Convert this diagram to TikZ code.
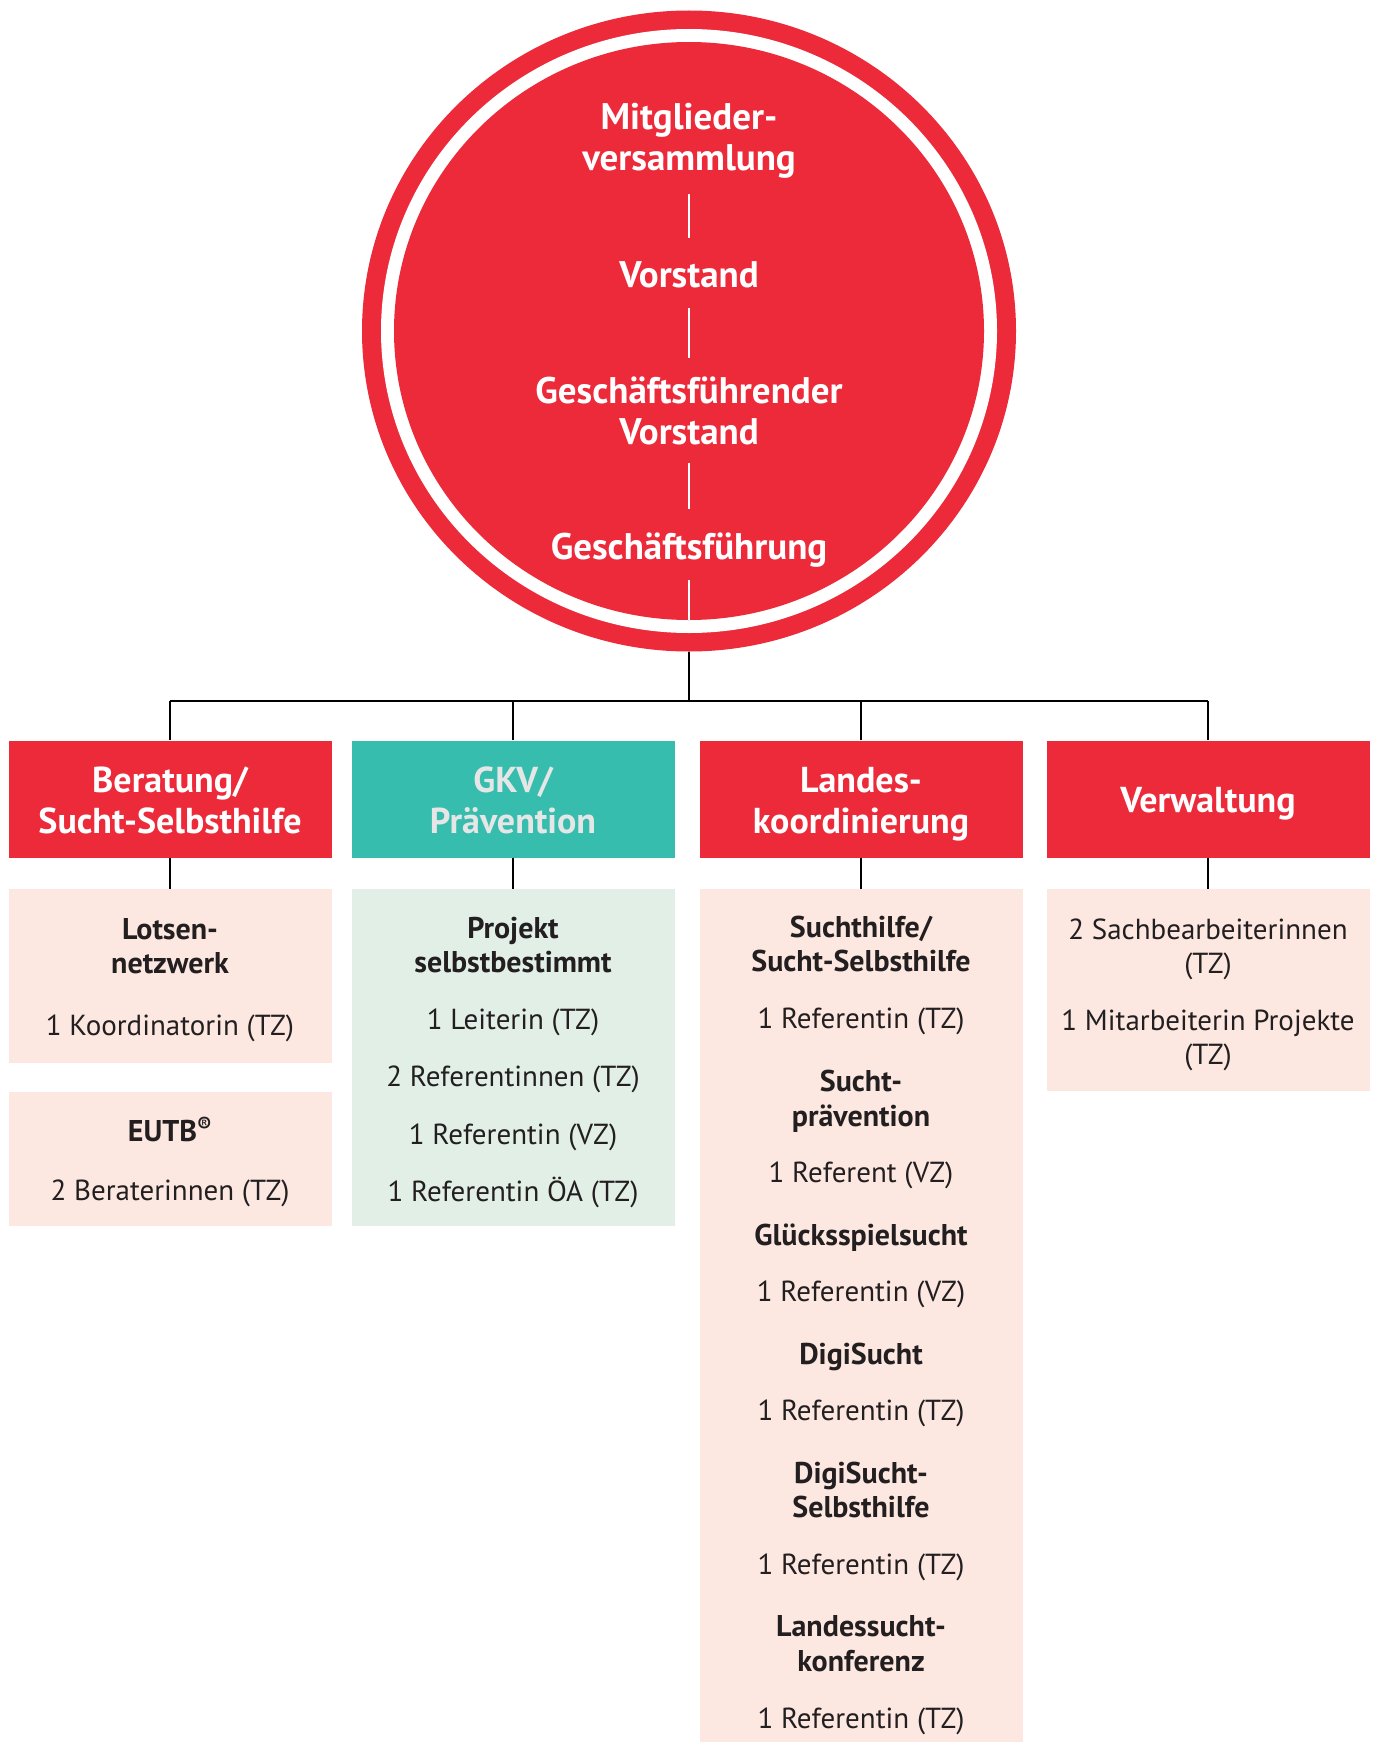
\documentclass[tikz,border=0pt]{standalone}
\usepackage{fontspec}
\setmainfont{PT Sans}
\usepackage{tikz}
\usetikzlibrary{calc,
                positioning,
                shapes.geometric}

\definecolor{orgred}{HTML}{EC2A3A}
\definecolor{orgteal}{HTML}{36BDAE}
\definecolor{orgpeach}{HTML}{FCE8E1}
\definecolor{orgmint}{HTML}{E1EFE6}
\definecolor{orggrey}{HTML}{E6E6E6}
\definecolor{orgtext}{HTML}{231F20}

\newcommand{\unithead}[1]{{\fontsize{30}{34.5}\selectfont\bfseries #1}}

\tikzset{
  headbox/.style={fill=orgred, minimum width=323pt, minimum height=117pt, inner sep=0pt},
  headtext/.style={text=white, inner sep=0pt, align=center, font=\fontsize{36}{41}\selectfont\bfseries},
  subbox/.style={fill=orgpeach, minimum width=323pt, inner sep=0pt},
  subtext/.style={text=orgtext, inner sep=0pt, align=center, font=\fontsize{29}{34.5}\selectfont},
  ring/.style={ellipse, inner sep=0pt},
  ctext/.style={text=white, inner sep=0pt, align=center, font=\fontsize{37}{41}\selectfont\bfseries},
  wline/.style={white, line width=2.4pt},
  bline/.style={black, line width=2.4pt}
}

\begin{document}
\begin{tikzpicture}[x=1pt,y=-1pt]
\useasboundingbox (0,0) rectangle (1375,1742);

\node[ring, fill=orgred, minimum width=654pt, minimum height=641pt] (org) at (689,331) {};
\node[ring, fill=white, minimum width=616pt, minimum height=604pt] (orgw) at (689,331) {};
\node[ring, fill=orgred, minimum width=590pt, minimum height=578pt] (orgin) at (689,331) {};

\node[ctext] (mv) at (689,141) {Mitglieder-\\versammlung};
\node[ctext] (vs) at (689,275) {Vorstand};
\node[ctext] (gfv) at (689,411) {Geschäftsführender\\Vorstand};
\node[ctext] (gf) at (689,550) {Geschäftsführung};

\draw[wline, shorten <=53pt, shorten >=37pt] (mv.center) -- (vs.center);
\draw[wline, shorten <=33pt, shorten >=53pt] (vs.center) -- (gfv.center);
\draw[wline, shorten <=52pt, shorten >=41pt] (gfv.center) -- (gf.center);
\draw[wline, shorten <=30pt] (gf.center) -- (orgin.south);

\node[headbox] (bera) at (170,799) {};
\node[headbox, fill=orgteal] (gkv) at (513,799) {};
\node[headbox] (land) at (861,799) {};
\node[headbox] (verw) at (1208,799) {};

\node[headtext] (beraT) at ([yshift=-1pt]bera.center) {Beratung/\\Sucht-Selbsthilfe};
\node[headtext, text=orggrey] (gkvT) at ([yshift=-1pt]gkv.center) {GKV/\\Prävention};
\node[headtext] (landT) at ([yshift=-5pt]land.center) {Landes-\\koordinierung};
\node[headtext] (verwT) at ([yshift=-5pt]verw.center) {Verwaltung};

\coordinate (bus) at (689,701);
\draw[bline] (org.south) -- (bus);
\draw[bline] (bera.north |- bus) -- (verw.north |- bus);
\foreach \n in {bera,gkv,land,verw}
  \draw[bline] (\n.north) -- (\n.north |- bus);

\node[subbox, minimum height=174pt] (lots) at (170,976) {};
\node[subbox, minimum height=134pt] (eutb) at (170,1159) {};
\node[subbox, fill=orgmint, minimum height=337pt] (proj) at (513,1057.5) {};
\node[subbox, minimum height=853pt] (lk) at (861,1315.5) {};
\node[subbox, minimum height=202pt] (vw) at (1208,990) {};

\node[subtext] (lotsT) at ([yshift=-4pt]lots.center)
  {\unithead{Lotsen-}\\\unithead{netzwerk}\\[27pt]1 Koordinatorin (TZ)};
\node[subtext] (eutbT) at ([yshift=-3pt]eutb.center)
  {\unithead{EUTB\textsuperscript{®}}\\[25pt]2 Beraterinnen (TZ)};
\node[subtext] (projT) at ([yshift=-5pt]proj.center)
  {\unithead{Projekt}\\\unithead{selbstbestimmt}\\[22pt]1 Leiterin (TZ)\\[23pt]2 Referentinnen (TZ)\\[23pt]1 Referentin (VZ)\\[23pt]1 Referentin ÖA (TZ)};
\node[subtext] (lkT) at ([yshift=-10pt]lk.center)
  {\unithead{Suchthilfe/}\\\unithead{Sucht-Selbsthilfe}\\[22pt]1 Referentin (TZ)\\[29pt]
   \unithead{Sucht-}\\\unithead{prävention}\\[22pt]1 Referent (VZ)\\[28pt]
   \unithead{Glücksspielsucht}\\[22pt]1 Referentin (VZ)\\[28pt]
   \unithead{DigiSucht}\\[22pt]1 Referentin (TZ)\\[28pt]
   \unithead{DigiSucht-}\\\unithead{Selbsthilfe}\\[22pt]1 Referentin (TZ)\\[28pt]
   \unithead{Landessucht-}\\\unithead{konferenz}\\[23pt]1 Referentin (TZ)};
\node[subtext] (vwT) at ([yshift=-5pt]vw.center)
  {2 Sachbearbeiterinnen\\(TZ)\\[22pt]1 Mitarbeiterin Projekte\\(TZ)};

\foreach \a/\b in {bera/lots,gkv/proj,land/lk,verw/vw}
  \draw[bline] (\a.south) -- (\b.north);
\end{tikzpicture}
\end{document}
